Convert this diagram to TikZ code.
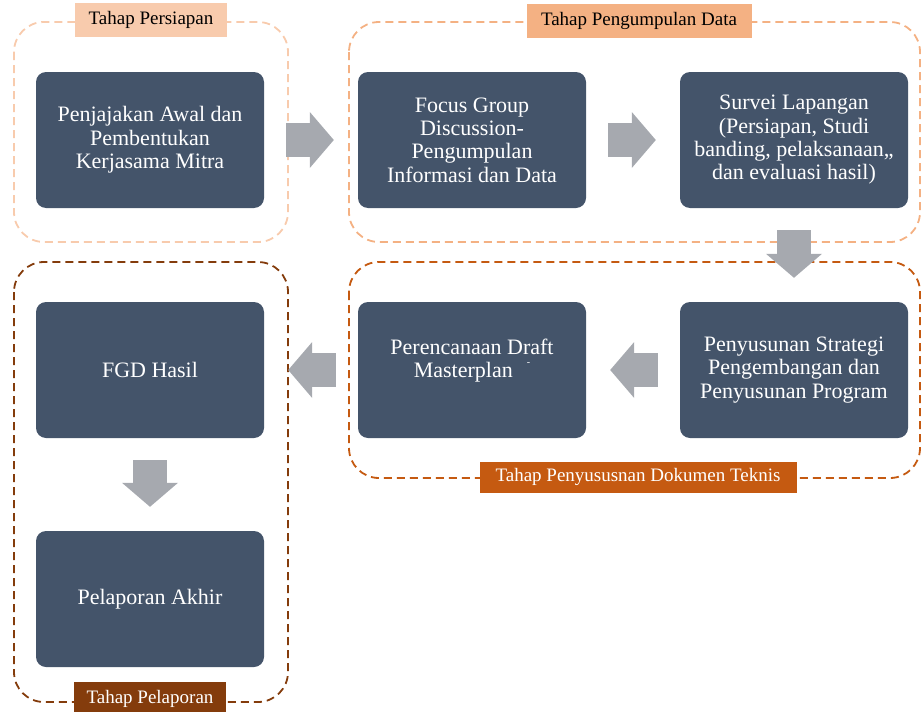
\documentclass[tikz,border=0pt]{standalone}
\usepackage{fontspec}
\setmainfont{Liberation Serif}
\usetikzlibrary{arrows.meta}
\definecolor{boxblue}{HTML}{44546A}
\definecolor{arrowgray}{HTML}{A6A9AF}
\definecolor{peach}{HTML}{F8CBAD}
\definecolor{lightorange}{HTML}{F4B183}
\definecolor{darkorange}{HTML}{C55A11}
\definecolor{rustbrown}{HTML}{843C0C}
\begin{document}
\begin{tikzpicture}[x=1pt, y=-1pt,
  stepbox/.style={rectangle, rounded corners=10pt, fill=boxblue, text=white, minimum width=228pt, minimum height=136pt, inner sep=0pt, align=center, font=\fontsize{22}{23.3}\selectfont},
  phase/.style={line width=1.8pt, dash pattern=on 8pt off 5pt, rounded corners=30pt},
  tag/.style={minimum height=34pt, inner sep=0pt, font=\fontsize{19}{20}\selectfont},
  flow/.style={arrowgray, line width=34pt, -{Triangle[length=24pt, width=56pt, line width=0pt]}, shorten <=22pt, shorten >=24pt}]
\useasboundingbox (0,0) rectangle (922,712);
% tahapan
\draw[phase, peach] (14,22) rectangle (288,242);
\draw[phase, lightorange] (349,22) rectangle (920,242);
\draw[phase, darkorange] (349,262) rectangle (920,478);
\draw[phase, rustbrown] (14,262) rectangle (288,702);
\node (tpersiapan)[tag, fill=peach, minimum width=152pt] at (151,20) {Tahap Persiapan};
\node (tpengumpulan)[tag, fill=lightorange, minimum width=225pt] at (639,21) {Tahap Pengumpulan Data};
\node (tteknis)[tag, fill=darkorange, text=white, minimum width=317pt, minimum height=31pt] at (638,477) {Tahap Penyususnan Dokumen Teknis};
\node (tpelaporan)[tag, fill=rustbrown, text=white, minimum width=152pt] at (150,699) {Tahap Pelaporan};
% kegiatan
\node (awal)[stepbox] at (150,140) {Penjajakan Awal dan\\Pembentukan\\Kerjasama Mitra};
\node (fgd)[stepbox] at (472,140) {Focus Group\\Discussion-\\Pengumpulan\\Informasi dan Data};
\node (survei)[stepbox] at (794,140) {Survei Lapangan\\(Persiapan, Studi\\banding, pelaksanaan,,\\dan evaluasi hasil)};
\node (strategi)[stepbox] at (794,370) {Penyusunan Strategi\\Pengembangan dan\\Penyusunan Program};
\node (draft)[stepbox] at (472,370) {Perencanaan Draft\\Masterplan\hspace{14pt}\raisebox{12pt}{\fontsize{10}{10}\selectfont-}\hspace*{16pt}\\\mbox{}};
\node (hasil)[stepbox] at (150,370) {FGD Hasil};
\node (akhir)[stepbox] at (150,599) {Pelaporan Akhir};
\draw[flow] (awal) -- (fgd);
\draw[flow] (fgd) -- (survei);
\draw[flow] (survei) -- (strategi);
\draw[flow] (strategi) -- (draft);
\draw[flow] (draft) -- (hasil);
\draw[flow] (hasil) -- (akhir);
\end{tikzpicture}
\end{document}
